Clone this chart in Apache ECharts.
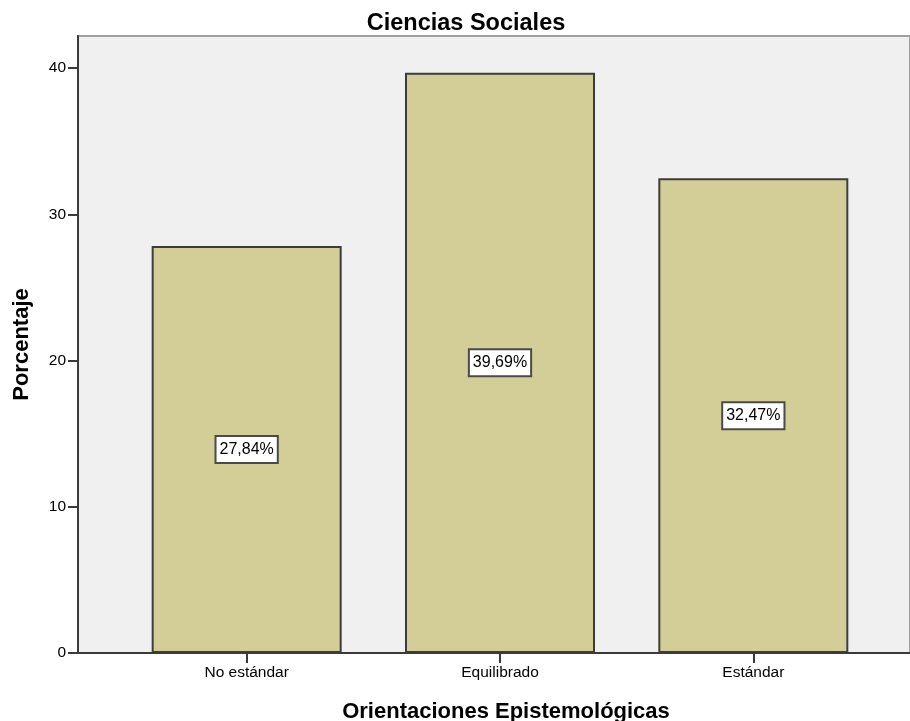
<!DOCTYPE html>
<html>
<head>
<meta charset="utf-8">
<script src="https://cdn.jsdelivr.net/npm/echarts@6/dist/echarts.min.js"></script>
<style>html,body{margin:0;padding:0;background:#fff;}#c{width:910px;height:721px;}</style>
</head>
<body>
<div id="c"></div>
<script>
const categories = ['No estándar', 'Equilibrado', 'Estándar'];
const values = [27.84, 39.69, 32.47];
const yTicks = [0, 10, 20, 30, 40];

const chart = echarts.init(document.getElementById('c'));
const fmt = v => v.toFixed(2).replace('.', ',') + '%';
chart.setOption({
  animation: false,
  title: [
    { text: 'Ciencias Sociales', left: 461, top: 7, textAlign: 'center',
      textStyle: { fontFamily: 'Liberation Sans', fontWeight: 'bold', fontSize: 23.5, color: '#000' } },
    { text: 'Orientaciones Epistemológicas', left: 501, top: 696, textAlign: 'center',
      textStyle: { fontFamily: 'Liberation Sans', fontWeight: 'bold', fontSize: 22, color: '#000' } }
  ],
  grid: [
    { left: 78, right: -5, top: 36, bottom: 68, show: true, backgroundColor: '#f0f0f0',
      borderColor: '#a0a0a0', borderWidth: 2 },
    { left: 120, right: 30, top: 36, bottom: 68 }
  ],
  xAxis: [
    { gridIndex: 0, type: 'value', min: 0, max: 1, axisLabel: { show: false }, axisTick: { show: false },
      splitLine: { show: false }, axisLine: { show: true, lineStyle: { color: '#3a3a3a', width: 2 } } },
    { gridIndex: 1, type: 'category', data: categories,
      axisLine: { show: false },
      axisTick: { show: true, alignWithLabel: true, length: 10, lineStyle: { color: '#3a3a3a', width: 2 } },
      axisLabel: { fontFamily: 'Liberation Sans', fontSize: 15.5, color: '#000', margin: 12 } }
  ],
  yAxis: [
    { gridIndex: 0, type: 'value', min: 0, max: 42.2, interval: 10,
      name: 'Porcentaje', nameLocation: 'middle', nameGap: 45, nameRotate: 90,
      nameTextStyle: { fontFamily: 'Liberation Sans', fontWeight: 'bold', fontSize: 22, color: '#000' },
      axisLine: { show: true, lineStyle: { color: '#3a3a3a', width: 2 } },
      axisTick: { show: true, length: 10, customValues: yTicks, lineStyle: { color: '#3a3a3a', width: 2 } },
      axisLabel: { fontFamily: 'Liberation Sans', fontSize: 15.5, color: '#000', margin: 12,
        customValues: yTicks },
      splitLine: { show: false } },
    { gridIndex: 1, type: 'value', min: 0, max: 42.2, show: false, splitLine: { show: false } }
  ],
  series: [{
    type: 'bar', xAxisIndex: 1, yAxisIndex: 1, data: values, barWidth: '75%',
    itemStyle: { color: '#d3ce97', borderColor: '#3c3c3c', borderWidth: 2 },
    label: { show: true, position: 'inside', formatter: p => fmt(p.value),
      fontFamily: 'Liberation Sans', fontSize: 16, color: '#000',
      backgroundColor: '#fff', borderColor: '#4a4a4a', borderWidth: 2, padding: [5, 3, 4, 3] }
  }]
});
</script>
</body>
</html>
